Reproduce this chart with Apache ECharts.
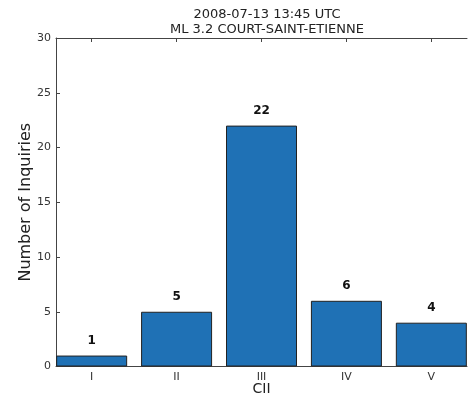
<!DOCTYPE html>
<html>
<head>
<meta charset="utf-8">
<script src="https://cdn.jsdelivr.net/npm/echarts@6/dist/echarts.min.js"></script>
<style>
  html, body { margin: 0; padding: 0; background: #fff; }
  #chart { width: 469px; height: 400px; }
</style>
</head>
<body>
<div id="chart"></div>
<script>
// Intensity classes (CII) and number of inquiries per class
const categories = ['I', 'II', 'III', 'IV', 'V'];
const inquiries = [1, 5, 22, 6, 4];
const yTicks = [0, 5, 10, 15, 20, 25, 30];
const titleLines = ['2008-07-13 13:45 UTC', 'ML 3.2 COURT-SAINT-ETIENNE'];

const positions = categories.map((_, i) => i);
const font = 'DejaVu Sans, sans-serif';
const spine = '#444';

const chart = echarts.init(document.getElementById('chart'));
chart.setOption({
  animation: false,
  backgroundColor: '#fff',
  title: {
    text: titleLines.join('\n'),
    left: 262,
    textAlign: 'center',
    top: 2,
    textStyle: { fontFamily: font, fontSize: 13, fontWeight: 'normal', color: '#222', lineHeight: 15 }
  },
  grid: { left: 56, right: 2, top: 38, bottom: 33.5, containLabel: false, outerBoundsMode: 'none' },
  xAxis: [{
    type: 'value',
    min: -0.42,
    max: 4.42,
    position: 'bottom',
    name: 'CII',
    nameLocation: 'middle',
    nameGap: 16,
    nameMoveOverlap: false,
    nameTextStyle: { fontFamily: font, fontSize: 14, color: '#222' },
    axisLine: { show: true, onZero: false, lineStyle: { color: spine, width: 1 } },
    axisTick: { show: true, inside: true, length: 4, customValues: positions, lineStyle: { color: spine } },
    axisLabel: {
      customValues: positions,
      fontFamily: font, fontSize: 11, color: '#333', margin: 5,
      formatter: v => categories[Math.round(v)]
    },
    splitLine: { show: false }
  }, {
    type: 'value',
    min: -0.42,
    max: 4.42,
    position: 'top',
    axisLine: { show: true, onZero: false, lineStyle: { color: spine, width: 1 } },
    axisTick: { show: true, inside: true, length: 4, customValues: positions, lineStyle: { color: spine } },
    axisLabel: { show: false },
    splitLine: { show: false }
  }],
  yAxis: {
    type: 'value',
    min: 0,
    max: 30,
    interval: 5,
    name: 'Number of Inquiries',
    nameLocation: 'middle',
    nameGap: 22,
    nameMoveOverlap: false,
    nameTextStyle: { fontFamily: font, fontSize: 16, color: '#222' },
    axisLine: { show: true, onZero: false, lineStyle: { color: spine, width: 1 } },
    axisTick: { show: true, inside: true, length: 4, lineStyle: { color: spine } },
    axisLabel: {
      fontFamily: font, fontSize: 11, color: '#333', margin: 5,
      formatter: v => (yTicks.includes(v) ? String(v) : '')
    },
    splitLine: { show: false }
  },
  series: [{
    type: 'bar',
    xAxisIndex: 0,
    barWidth: 71,
    data: inquiries.map((v, i) => [positions[i], v]),
    itemStyle: { color: '#1f71b5', borderColor: '#222', borderWidth: 1 },
    label: {
      show: true,
      position: 'top',
      distance: 9,
      fontFamily: font,
      fontSize: 12,
      fontWeight: 'bold',
      color: '#111',
      formatter: p => String(p.value[1])
    }
  }]
});
</script>
</body>
</html>
